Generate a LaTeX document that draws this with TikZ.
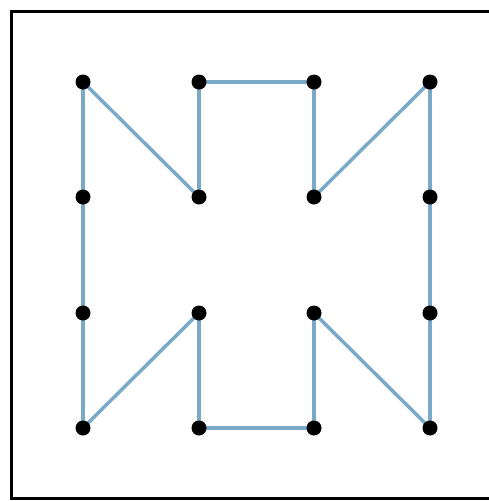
\documentclass[tikz,border=0pt]{standalone}
\usepackage{tikz}
\definecolor{edgeblue}{RGB}{122,170,200}
\begin{document}
\begin{tikzpicture}[x=1pt,y=-1pt,
  dot/.style={circle,fill=black,inner sep=0pt,minimum size=15pt},
  edge/.style={draw=edgeblue,line width=3.5pt}]
\useasboundingbox (0,0) rectangle (488,501);
\fill[white] (0,0) rectangle (488,501);
\draw[line width=3pt] (11.5,11.5) rectangle (500,498.5);
\foreach \i/\x in {1/83,2/199,3/314,4/430}{
  \foreach \j/\y in {1/82,2/197,3/313,4/428}{
    \coordinate (c\i\j) at (\x,\y);
  }
}
\draw[edge] (c11) -- (c22);
\draw[edge] (c11) -- (c12) -- (c13) -- (c14);
\draw[edge] (c21) -- (c22);
\draw[edge] (c21) -- (c31);
\draw[edge] (c31) -- (c32);
\draw[edge] (c32) -- (c41);
\draw[edge] (c41) -- (c42) -- (c43) -- (c44);
\draw[edge] (c14) -- (c23);
\draw[edge] (c23) -- (c24);
\draw[edge] (c24) -- (c34);
\draw[edge] (c34) -- (c33);
\draw[edge] (c33) -- (c44);
\foreach \i in {1,2,3,4}{
  \foreach \j in {1,2,3,4}{
    \node[dot] (n\i\j) at (c\i\j) {};
  }
}
\end{tikzpicture}
\end{document}
